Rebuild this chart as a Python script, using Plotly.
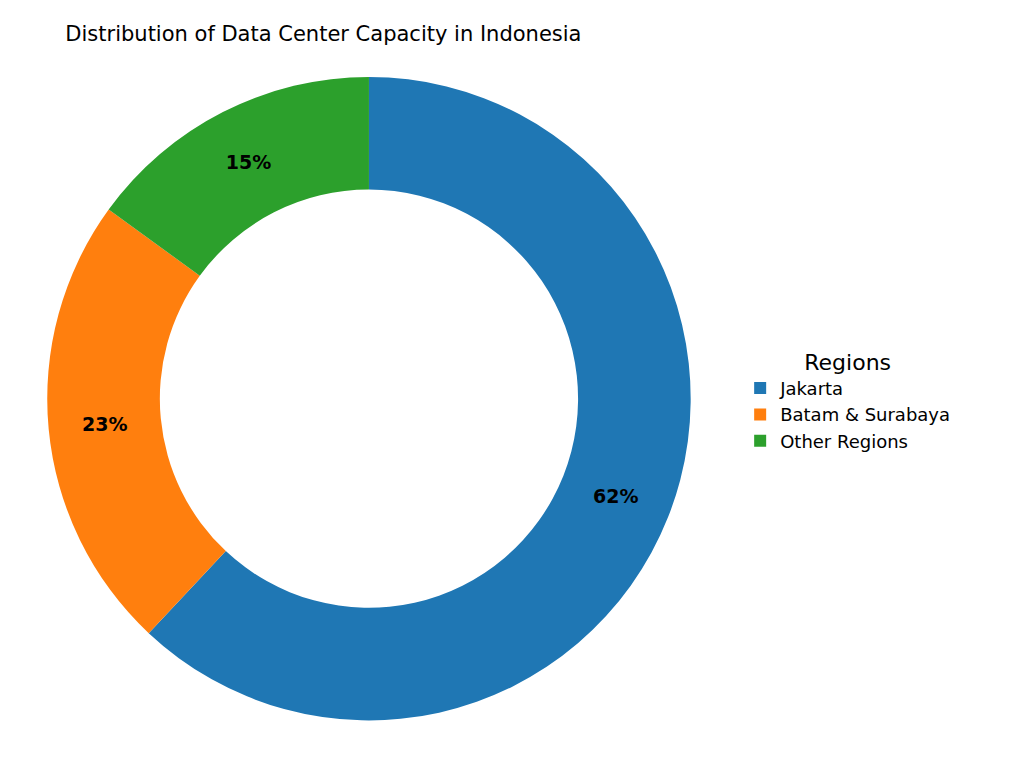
import plotly.graph_objects as go

# ── Data ──────────────────────────────────────────────────────────────────────
REGIONS = ["Jakarta", "Batam & Surabaya", "Other Regions"]
CAPACITY_PCT = [62, 23, 15]
COLORS = ["#1f77b4", "#ff7f0e", "#2ca02c"]

fig = go.Figure(go.Pie(
    labels=REGIONS,
    values=CAPACITY_PCT,
    hole=0.65,
    sort=False,
    direction="clockwise",
    rotation=0,
    marker=dict(colors=COLORS, line=dict(color="white", width=0)),
    texttemplate="<b>%{percent:.0%}</b>",
    textposition="inside",
    insidetextorientation="horizontal",
    textfont=dict(color="black", size=19),
    domain=dict(x=[0.038, 0.667], y=[0.07, 0.91]),
))

fig.update_layout(
    title=dict(text="Distribution of Data Center Capacity in Indonesia",
               x=0.056, xanchor="left", y=0.966, yanchor="middle",
               font=dict(size=21, color="black")),
    font=dict(family="DejaVu Sans", size=18, color="black"),
    width=1024, height=766,
    plot_bgcolor="white", paper_bgcolor="white",
    margin=dict(l=0, r=0, t=0, b=0),
    legend=dict(title=dict(text="Regions", side="top center"),
                x=0.715, y=0.565, xanchor="left", yanchor="top",
                font=dict(size=18)),
)

fig.write_html("out.html")
